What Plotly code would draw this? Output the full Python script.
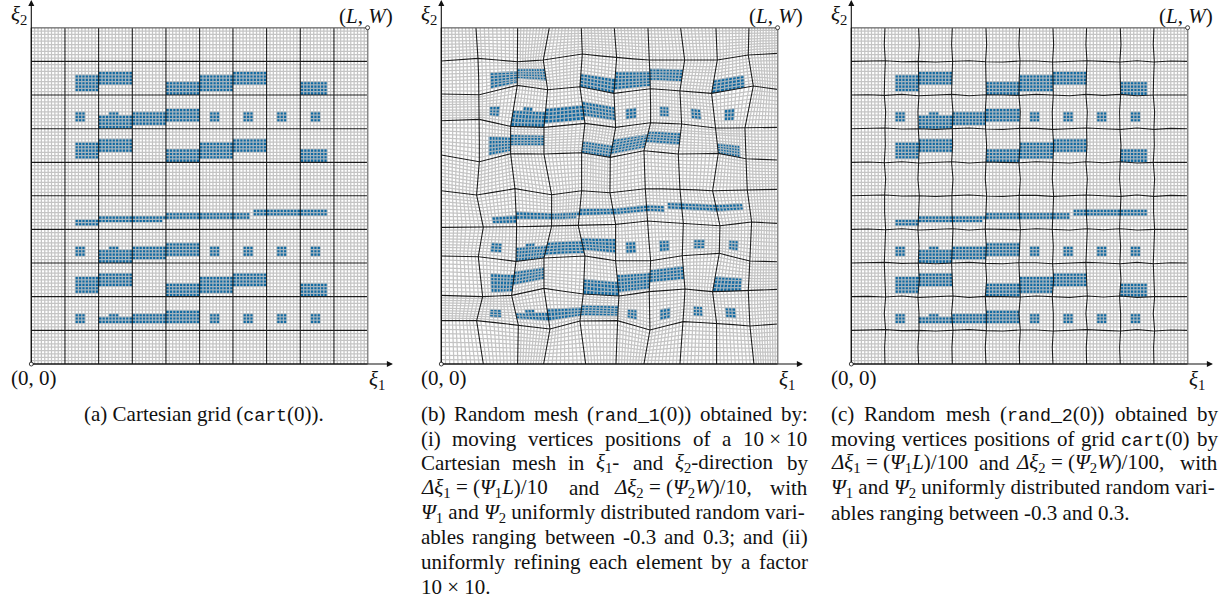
import plotly.graph_objects as go

# --- Mesh data, in units of L/1009 and W/1009 ---
N_ELEMENTS = 10
N_FINE = 100
FULL = 1009

CART_XI1 = [0, 101, 202, 303, 404, 505, 605, 706, 807, 908, 1009]
CART_XI2 = [0, 101, 202, 303, 404, 505, 605, 706, 807, 908, 1009]

# rand_1: vertex positions, rows from bottom (xi2 = 0) to top (xi2 = W)
RAND1_XI1 = [
    [0, 126, 229, 307, 433, 524, 608, 716, 826, 938, 1009],
    [0, 106, 231, 326, 416, 528, 626, 726, 826, 926, 1009],
    [0, 124, 211, 308, 426, 533, 624, 731, 814, 921, 1009],
    [0, 111, 224, 308, 431, 523, 628, 723, 834, 926, 1009],
    [0, 126, 226, 331, 411, 523, 618, 726, 836, 931, 1009],
    [0, 106, 221, 331, 421, 506, 612, 716, 814, 918, 1009],
    [0, 114, 208, 308, 421, 507, 608, 711, 831, 914, 1009],
    [0, 114, 208, 308, 431, 523, 628, 721, 823, 911, 1009],
    [0, 114, 228, 319, 416, 518, 628, 716, 811, 936, 1009],
    [0, 110, 228, 306, 423, 526, 624, 730, 828, 921, 1009],
    [0, 104, 229, 324, 420, 519, 620, 718, 824, 923, 1009],
]
RAND1_XI2 = [
    [0, 0, 0, 0, 0, 0, 0, 0, 0, 0, 0],
    [130, 130, 117, 105, 129, 130, 102, 127, 122, 114, 120],
    [206, 202, 206, 227, 210, 204, 217, 225, 217, 220, 224],
    [324, 322, 308, 318, 324, 310, 310, 325, 332, 309, 307],
    [410, 410, 412, 414, 415, 419, 429, 422, 415, 426, 422],
    [520, 507, 526, 508, 520, 514, 526, 525, 520, 522, 524],
    [627, 607, 631, 630, 634, 620, 640, 630, 632, 616, 612],
    [730, 734, 713, 710, 722, 710, 724, 720, 708, 708, 710],
    [810, 808, 836, 823, 832, 812, 826, 820, 812, 834, 824],
    [909, 917, 907, 912, 930, 919, 912, 912, 912, 927, 932],
    [1009, 1009, 1009, 1009, 1009, 1009, 1009, 1009, 1009, 1009, 1009],
]

# rand_2: small waviness of the heavy lines, one knot per half element (L/1009 units)
RAND2_WIGGLE = [
    [0, 1, -1, 2, -2, 1, 2, -2, 1, 0, -1, 2, 1, -2, 2, -1, 2, -2, 0, 1, 0],
    [0, -2, 1, 1, -2, 2, -1, 1, -2, 1, 2, -2, 0, 2, -1, -2, 1, 1, -1, 2, 0],
    [0, 1, 2, -1, 0, -2, 1, 2, -1, -2, 1, 1, -2, 1, 2, 0, -2, 2, -2, 1, 0],
    [0, -1, 2, -2, 2, 1, -2, 0, 2, -1, -1, 2, -2, 1, 0, 2, -2, -1, 1, -2, 0],
]

# Populated fine cells: [first col, last col + 1, first row from top, last row + 1]
BLUE_BLOCKS = [
    [13, 20, 14, 19], [20, 30, 13, 17], [40, 50, 16, 20], [50, 60, 14, 19], [60, 70, 13, 17], [80, 88, 16, 20],
    [13, 16, 25, 28], [23, 26, 25, 26], [20, 30, 26, 30], [30, 40, 25, 29], [40, 50, 24, 28],
    [53, 56, 25, 28], [63, 66, 25, 28], [73, 76, 25, 28], [83, 86, 25, 28],
    [13, 20, 34, 39], [20, 30, 33, 37], [40, 50, 36, 40], [50, 60, 34, 39], [60, 70, 33, 37], [80, 88, 36, 40],
    [13, 20, 57, 59], [20, 39, 56, 58], [39, 40, 56, 57], [40, 65, 55, 57], [66, 88, 54, 56],
    [13, 16, 65, 68], [23, 26, 65, 66], [20, 30, 66, 70], [30, 40, 65, 69], [40, 50, 64, 68],
    [53, 56, 65, 68], [63, 66, 65, 68], [73, 76, 65, 68], [83, 86, 65, 68],
    [13, 20, 74, 79], [20, 30, 73, 77], [40, 50, 76, 80], [50, 60, 74, 79], [60, 70, 73, 77], [80, 88, 76, 80],
    [13, 16, 85, 88], [23, 26, 85, 86], [20, 30, 86, 88], [30, 40, 85, 88], [40, 50, 84, 88],
    [53, 56, 85, 88], [63, 66, 85, 88], [73, 76, 85, 88], [83, 86, 85, 88],
]

PANEL_LEFTS = [31.3, 441.3, 851.3]
PANEL_TOP, PANEL_BOTTOM = 27.7, 364.0
W_PX, H_PX = 1229, 602
SERIF = "Liberation Serif"
MONO = "Liberation Mono"
TT = lambda s: f'<span style="font-family:{MONO};font-size:18.3px">{s}</span>'
XI = "<i>ξ</i>"
DX = "<i>Δξ</i>"
PS = "<i>Ψ</i>"
NB = "\u00a0"

CAPTION_SIZE = 21
# Caption words: (x pixel of the left edge, line centre pixel, text)
CAPTION_WORDS = [
    (82, 414, f"(a) Cartesian grid ({TT('cart')}(0))."),
    # (b)
    (418.7, 414, "(b)"), (451.9, 414, "Random"), (531.8, 414, "mesh"), (584.8, 414, f"({TT('rand_1')}(0))"),
    (698, 414, "obtained"), (779, 414, "by:"),
    (418.7, 439, "(i)"), (450.3, 439, "moving"), (526.3, 439, "vertices"), (603.4, 439, "positions"),
    (691.1, 439, "of"), (720.4, 439, "a"), (741.5, 439, "10 × 10"),
    (418.7, 463, "Cartesian"), (509.9, 463, "mesh"), (566.1, 463, "in"), (594.3, 463, f"{XI}<sub>1</sub>-"),
    (631, 463, "and"), (673.2, 463, f"{XI}<sub>2</sub>-direction"), (784.6, 463, "by"),
    (418.7, 488, f"{DX}<sub>1</sub> = ({PS}<sub>1</sub><i>L</i>)/10"), (567, 488, "and"),
    (612, 488, f"{DX}<sub>2</sub> = ({PS}<sub>2</sub><i>W</i>)/10,"), (768.4, 488, "with"),
    (418.7, 513, f"{PS}<sub>1</sub> and {PS}<sub>2</sub> uniformly distributed random vari-"),
    (418.7, 537, "ables"), (470.2, 537, "ranging"), (542.7, 537, "between"), (621, 537, "-0.3"),
    (662.5, 537, "and"), (701.1, 537, "0.3;"), (741.5, 537, "and"), (780.1, 537, "(ii)"),
    (418.7, 562, "uniformly"), (511.5, 562, "refining"), (586.8, 562, "each"), (634.1, 562, "element"),
    (709.4, 562, "by"), (739.2, 562, "a"), (757.3, 562, "factor"),
    (418.7, 587, "10 × 10."),
    # (c)
    (828.7, 414, "(c)"), (862.2, 414, "Random"), (943.6, 414, "mesh"), (998.1, 414, f"({TT('rand_2')}(0))"),
    (1112.8, 414, "obtained"), (1195.3, 414, "by"),
    (828.7, 439, "moving"), (899.7, 439, "vertices"), (971.8, 439, "positions"), (1054.5, 439, "of"),
    (1078.8, 439, "grid"), (1119.4, 439, f"{TT('cart')}(0)"), (1194.7, 439, "by"),
    (828.7, 463, f"{DX}<sub>1</sub> = ({PS}<sub>1</sub><i>L</i>)/100"), (977, 463, "and"),
    (1014, 463, f"{DX}<sub>2</sub>{NB}={NB}({PS}<sub>2</sub><i>W</i>)/100,"),
    (1178.4, 463, "with"),
    (828.7, 488, f"{PS}<sub>1</sub> and {PS}<sub>2</sub> uniformly distributed random vari-"),
    (828.7, 513, "ables ranging between -0.3 and 0.3."),
]


def bilinear(fx, fy, xi1_grid, xi2_grid):
    i = min(int(fx // 10), N_ELEMENTS - 1)
    j = min(int(fy // 10), N_ELEMENTS - 1)
    s, t = fx / 10 - i, fy / 10 - j
    def blend(g):
        return (g[j][i] * (1 - s) * (1 - t) + g[j][i + 1] * s * (1 - t)
                + g[j + 1][i] * (1 - s) * t + g[j + 1][i + 1] * s * t)
    return blend(xi1_grid), blend(xi2_grid)


def fine_lines(g1, g2):
    xs, ys = [], []
    for k in range(N_FINE + 1):
        if k % 10 == 0:
            continue
        for m in range(N_FINE + 1):
            x, y = bilinear(m, k, g1, g2)
            xs.append(x); ys.append(y)
        xs.append(None); ys.append(None)
        for m in range(N_FINE + 1):
            x, y = bilinear(k, m, g1, g2)
            xs.append(x); ys.append(y)
        xs.append(None); ys.append(None)
    return xs, ys


def heavy_lines(g1, g2, wiggle=False):
    xs, ys = [], []
    count = 0
    for k in range(0, N_FINE + 1, 10):
        for horizontal in (True, False):
            w = RAND2_WIGGLE[count % len(RAND2_WIGGLE)]
            count += 1
            inner = 0 < k < N_FINE
            for n in range(21):
                m = n * 5
                fx, fy = (m, k) if horizontal else (k, m)
                x, y = bilinear(fx, fy, g1, g2)
                if wiggle and inner:
                    if horizontal:
                        y += w[n]
                    else:
                        x += w[n]
                xs.append(x); ys.append(y)
            xs.append(None); ys.append(None)
    return xs, ys


def blue_cells(g1, g2):
    xs, ys = [], []
    for c0, c1, t0, t1 in BLUE_BLOCKS:
        for c in range(c0, c1):
            for t in range(t0, t1):
                r = N_FINE - t - 1
                for fx, fy in ((c, r), (c + 1, r), (c + 1, r + 1), (c, r + 1), (c, r)):
                    px, py = bilinear(fx + (1e-6 if fx == c else -1e-6),
                                      fy + (1e-6 if fy == r else -1e-6), g1, g2)
                    xs.append(px); ys.append(py)
                xs.append(None); ys.append(None)
    return xs, ys


cart1 = [CART_XI1[:] for _ in range(11)]
cart2 = [[CART_XI2[j]] * 11 for j in range(11)]
panels = [(cart1, cart2, False), (RAND1_XI1, RAND1_XI2, False), (cart1, cart2, True)]

fig = go.Figure()
annotations = []
UNIT_PER_PX = FULL / 336.3
SPAN_W = 410

layout_axes = {}
for p, (g1, g2, wiggle) in enumerate(panels):
    left = PANEL_LEFTS[p]
    dom0 = left - 31.3
    dom1 = dom0 + SPAN_W - 5
    ax = "" if p == 0 else str(p + 1)
    layout_axes[f"xaxis{ax}"] = dict(
        domain=[dom0 / W_PX, dom1 / W_PX],
        range=[-31.3 * UNIT_PER_PX, (SPAN_W - 5 - 31.3) * UNIT_PER_PX],
        visible=False, fixedrange=True)
    layout_axes[f"yaxis{ax}"] = dict(
        domain=[1 - 395 / H_PX, 1.0],
        range=[(PANEL_BOTTOM - 395) * UNIT_PER_PX, PANEL_BOTTOM * UNIT_PER_PX],
        visible=False, fixedrange=True)
    xa, ya = f"x{ax}", f"y{ax}"

    bx, by = blue_cells(g1, g2)
    fig.add_trace(go.Scatter(x=bx, y=by, mode="lines", fill="toself", fillcolor="#0f69a3",
                             line=dict(width=0, color="#0f69a3"), hoverinfo="skip",
                             showlegend=False, xaxis=xa, yaxis=ya))
    fx, fy = fine_lines(g1, g2)
    fig.add_trace(go.Scatter(x=fx, y=fy, mode="lines", line=dict(width=1.25, color="#c4c4c4"),
                             hoverinfo="skip", showlegend=False, xaxis=xa, yaxis=ya))
    # the same cells again, translucent, so the mesh lines show less strongly across them
    fig.add_trace(go.Scatter(x=bx, y=by, mode="lines", fill="toself", fillcolor="rgba(15,105,163,0.18)",
                             line=dict(width=0, color="rgba(15,105,163,0)"), hoverinfo="skip",
                             showlegend=False, xaxis=xa, yaxis=ya))
    hx, hy = heavy_lines(g1, g2, wiggle)
    fig.add_trace(go.Scatter(x=hx, y=hy, mode="lines", line=dict(width=1.1, color="#1c1c1c"),
                             hoverinfo="skip", showlegend=False, xaxis=xa, yaxis=ya))
    # frame drawn in grey above the black lines (top and right edges)
    fig.add_trace(go.Scatter(x=[0, FULL, FULL], y=[FULL, FULL, 0], mode="lines",
                             line=dict(width=1.3, color="#888888"), hoverinfo="skip",
                             showlegend=False, xaxis=xa, yaxis=ya))
    # corner vertices
    fig.add_trace(go.Scatter(x=[0, FULL], y=[0, FULL], mode="markers",
                             marker=dict(size=4, color="white", line=dict(width=0.8, color="#111111")),
                             hoverinfo="skip", showlegend=False, xaxis=xa, yaxis=ya))
    # arrows
    annotations.append(dict(x=1085, y=0, ax=0, ay=0, xref=xa, yref=ya, axref=xa, ayref=ya,
                            showarrow=True, arrowhead=2, arrowsize=1.1, arrowwidth=1.1,
                            arrowcolor="#111111", text=""))
    annotations.append(dict(x=0, y=1092, ax=0, ay=0, xref=xa, yref=ya, axref=xa, ayref=ya,
                            showarrow=True, arrowhead=2, arrowsize=1.1, arrowwidth=1.1,
                            arrowcolor="#111111", text=""))
    lab = dict(showarrow=False, xref="paper", yref="paper", xanchor="left", yanchor="middle",
               font=dict(family=SERIF, size=21, color="#111111"))
    for px, py, t in [
        (left - 22.3, 15, f"{XI}<sub>2</sub>"),
        (left + 306, 16, "(<i>L</i>, <i>W</i>)"),
        (left - 22.3, 378, "(0, 0)"),
        (left + 335.7, 380, f"{XI}<sub>1</sub>"),
    ]:
        annotations.append(dict(lab, x=px / W_PX, y=1 - py / H_PX, text=t))

for px, py, t in CAPTION_WORDS:
    annotations.append(dict(x=px / W_PX, y=1 - py / H_PX, text=t, showarrow=False,
                            xref="paper", yref="paper", xanchor="left", yanchor="middle",
                            font=dict(family=SERIF, size=CAPTION_SIZE, color="#111111")))

fig.update_layout(width=W_PX, height=H_PX, margin=dict(l=0, r=0, t=0, b=0),
                  paper_bgcolor="white", plot_bgcolor="white",
                  annotations=annotations, showlegend=False, **layout_axes)

fig.write_html("out.html", config=dict(displayModeBar=False),
               post_script="document.body.style.margin='0';document.body.style.overflow='hidden';")
